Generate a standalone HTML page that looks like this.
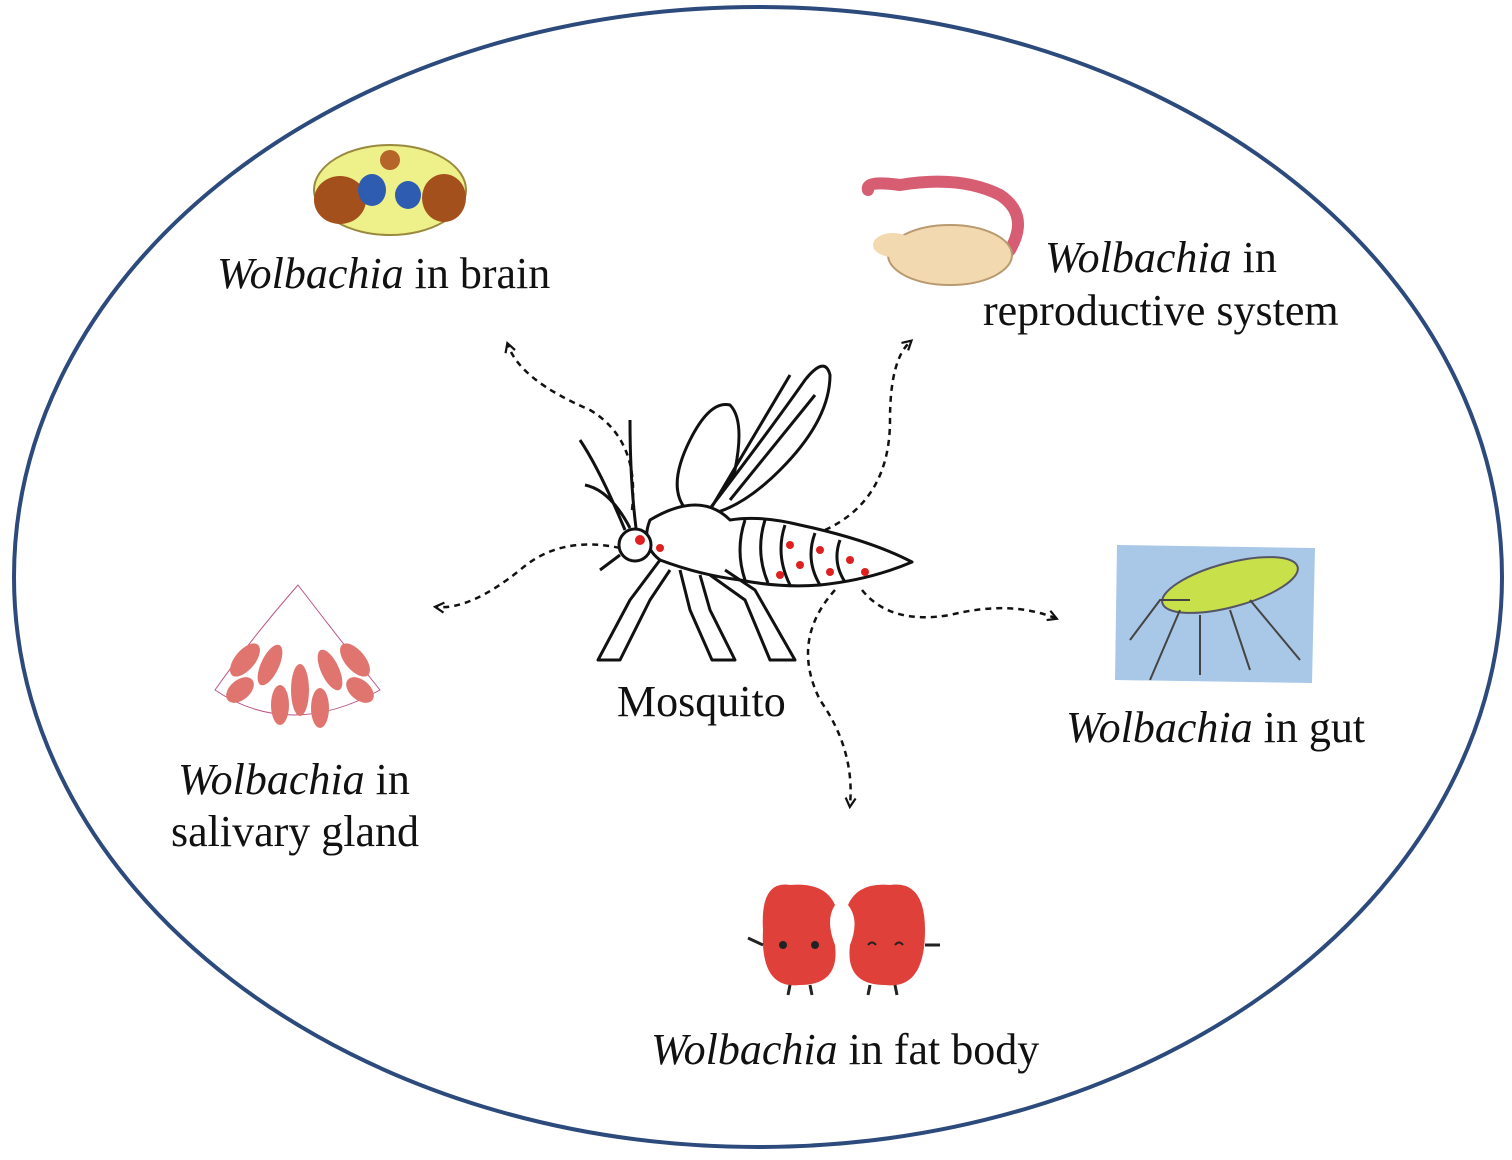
<!DOCTYPE html>
<html><head><meta charset="utf-8"><style>
html,body{margin:0;padding:0;background:#fff;}
svg{display:block;}
text{font-family:"Liberation Serif",serif;font-size:44px;fill:#111;}
</style></head><body>
<svg width="1512" height="1160" viewBox="0 0 1512 1160" xmlns="http://www.w3.org/2000/svg">
<defs>
<marker id="ah" markerWidth="12" markerHeight="12" refX="8" refY="6" orient="auto" markerUnits="userSpaceOnUse" viewBox="0 0 12 12"><path d="M1,1 L10,6 L1,11" fill="none" stroke="#111" stroke-width="2.2" stroke-dasharray="none"/></marker>
</defs>
<ellipse cx="758" cy="577" rx="744" ry="570" fill="#fff" stroke="#2c4a7c" stroke-width="4"/>

<g>
<ellipse cx="390" cy="190" rx="76" ry="45" fill="#eef08a" stroke="#9a8a40" stroke-width="2"/>
<ellipse cx="340" cy="200" rx="26" ry="24" fill="#a4501c"/>
<ellipse cx="444" cy="198" rx="22" ry="24" fill="#a4501c"/>
<ellipse cx="372" cy="190" rx="14" ry="16" fill="#2e5cb0"/>
<ellipse cx="408" cy="195" rx="13" ry="14" fill="#2e5cb0"/>
<circle cx="390" cy="160" r="10" fill="#b5652a"/>
</g>
<g>
<path d="M868,190 Q865,180 900,185 Q960,175 1000,195 Q1030,215 1010,250 Q1000,262 990,255" fill="none" stroke="#d65d72" stroke-width="12" stroke-linecap="round"/>
<ellipse cx="950" cy="255" rx="62" ry="30" fill="#f3d9b0" stroke="#b99a70" stroke-width="2"/>
<ellipse cx="893" cy="245" rx="20" ry="12" fill="#f3d9b0"/>
</g>
<g>
<path d="M1117,545 L1315,548 L1312,683 L1115,680 Z" fill="#a9c8e8"/>
<ellipse cx="1230" cy="585" rx="70" ry="22" fill="#c8e04a" transform="rotate(-15 1230 585)" stroke="#556" stroke-width="2"/>
<path d="M1130,640 L1160,600 L1190,600 M1150,680 L1180,610 M1250,600 L1300,660 M1230,610 L1250,670 M1200,615 L1200,675" stroke="#444" stroke-width="2" fill="none"/>
</g>
<g>
<path d="M298,585 Q250,640 215,690 Q290,740 380,690 Q340,640 298,585 Z" fill="#fff" stroke="#b58" stroke-width="1"/>
<g fill="#e07570">
<ellipse cx="245" cy="660" rx="10" ry="20" transform="rotate(40 245 660)"/>
<ellipse cx="270" cy="665" rx="9" ry="22" transform="rotate(25 270 665)"/>
<ellipse cx="300" cy="690" rx="9" ry="26"/>
<ellipse cx="330" cy="670" rx="9" ry="22" transform="rotate(-25 330 670)"/>
<ellipse cx="355" cy="660" rx="10" ry="20" transform="rotate(-40 355 660)"/>
<ellipse cx="240" cy="690" rx="10" ry="16" transform="rotate(50 240 690)"/>
<ellipse cx="280" cy="705" rx="9" ry="20"/>
<ellipse cx="320" cy="708" rx="9" ry="20"/>
<ellipse cx="360" cy="690" rx="10" ry="16" transform="rotate(-50 360 690)"/>
</g>
</g>
<g>
<path d="M790,885 Q760,880 763,930 Q760,990 800,985 Q840,985 835,945 Q825,920 835,905 Q825,882 790,885 Z" fill="#e0403a"/>
<path d="M890,885 Q925,880 925,930 Q925,990 885,985 Q845,985 850,945 Q860,920 848,905 Q858,882 890,885 Z" fill="#e0403a"/>
<circle cx="783" cy="945" r="4" fill="#222"/><circle cx="815" cy="945" r="4" fill="#222"/>
<path d="M868,945 q4,-5 8,0 M895,945 q4,-5 8,0" stroke="#222" stroke-width="2" fill="none"/>
<path d="M790,985 L788,995 M810,985 L812,995 M870,985 L868,995 M895,985 L897,995 M763,945 L748,938 M925,945 L940,945" stroke="#222" stroke-width="3"/>
</g>

<g fill="none" stroke="#111" stroke-width="3" stroke-linejoin="round">
<path d="M700,520 Q660,500 690,440 Q710,400 730,405 Q745,420 735,470 Q720,510 700,520 Z" fill="#fff"/>
<path d="M705,515 Q770,430 805,380 Q825,355 830,375 Q830,420 780,470 Q740,510 705,515 Z" fill="#fff"/>
<path d="M710,510 L790,375 M730,500 L815,395"/>
<path d="M650,520 Q700,490 730,520 Q760,515 800,525 Q870,540 912,562 Q870,580 820,585 Q780,588 740,580 Q700,575 660,560 Q640,545 650,520 Z" fill="#fff"/>
<path d="M745,520 Q735,550 745,580 M765,520 Q755,552 768,583 M785,525 Q775,555 790,585 M815,533 Q805,560 820,585 M840,540 Q832,562 845,582"/>
<circle cx="635" cy="545" r="16" fill="#fff"/>
<path d="M625,530 Q600,470 580,440 M630,528 Q610,490 585,485 M636,528 Q630,480 630,420 M620,555 L600,570"/>
<path d="M660,560 L630,600 L598,660 L620,660 L650,600 L670,570 M680,570 L690,610 L712,660 L735,660 L710,610 L700,575 M710,575 L745,600 L770,660 L795,660 L755,590 L725,570"/>
</g>
<g fill="#e02020">
<circle cx="640" cy="540" r="5"/><circle cx="660" cy="548" r="4"/><circle cx="790" cy="545" r="4"/><circle cx="800" cy="565" r="4"/><circle cx="820" cy="550" r="4"/><circle cx="830" cy="572" r="4"/><circle cx="850" cy="560" r="4"/><circle cx="865" cy="572" r="4"/><circle cx="780" cy="575" r="4"/>
</g>

<g fill="none" stroke="#111" stroke-width="2.5" stroke-dasharray="6,5" marker-end="url(#ah)">
<path d="M632,510 Q640,440 590,410 Q520,380 508,345"/>
<path d="M825,530 Q890,500 890,420 Q890,360 910,342"/>
<path d="M620,548 Q560,535 520,570 Q470,610 437,607"/>
<path d="M862,590 Q890,625 950,615 Q1010,600 1055,618"/>
<path d="M835,590 Q790,640 820,700 Q855,750 850,805"/>
</g>

<text x="217" y="288"><tspan font-style="italic">Wolbachia</tspan> in brain</text>
<text x="1045" y="272"><tspan font-style="italic">Wolbachia</tspan> in</text>
<text x="983" y="325">reproductive system</text>
<text x="617" y="716">Mosquito</text>
<text x="1066" y="742"><tspan font-style="italic">Wolbachia</tspan> in gut</text>
<text x="178" y="794"><tspan font-style="italic">Wolbachia</tspan> in</text>
<text x="171" y="846">salivary gland</text>
<text x="651" y="1064"><tspan font-style="italic">Wolbachia</tspan> in fat body</text>
</svg>
</body></html>
